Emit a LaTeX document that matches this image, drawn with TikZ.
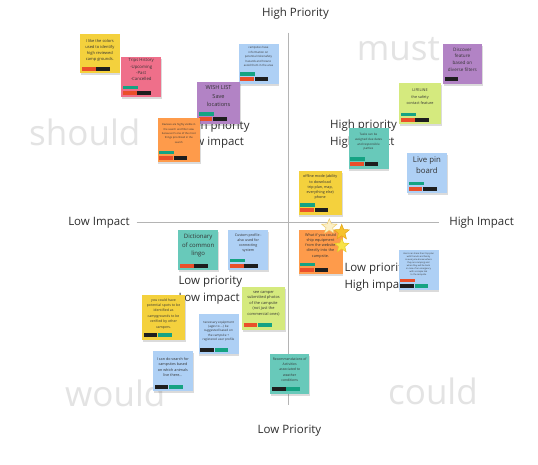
\documentclass[tikz,border=0pt]{standalone}
\usepackage{fontspec}
\setmainfont{Open Sans}
\usetikzlibrary{shapes.geometric,shadows}

% sticky-note palette
\definecolor{nyellow}{HTML}{F4D13D}
\definecolor{npink}{HTML}{EF6F8A}
\definecolor{nblue}{HTML}{AED0F5}
\definecolor{npurple}{HTML}{B283C5}
\definecolor{norange}{HTML}{FE9B4B}
\definecolor{nlime}{HTML}{D5EA7E}
\definecolor{nteal}{HTML}{68C9BA}
% vote bars
\definecolor{vgreen}{HTML}{15A383}
\definecolor{vred}{HTML}{EA4F2A}
\definecolor{vblack}{HTML}{1E1E1E}
% vote stars
\definecolor{starpale}{HTML}{FBEFC6}
\definecolor{starpaleline}{HTML}{EFCB68}
\definecolor{stargold}{HTML}{F7C22C}
\definecolor{stargoldline}{HTML}{E3A514}
\definecolor{staryellow}{HTML}{F8E347}
\definecolor{staryellowline}{HTML}{E6C52A}
% greys
\definecolor{inkgrey}{HTML}{333333}
\definecolor{axisink}{HTML}{2E2E2E}
\definecolor{linegrey}{HTML}{B4B4B4}
\definecolor{wordgrey}{HTML}{E3E3E3}

\tikzset{
  note/.style={draw=none, inner sep=0pt, anchor=north west,
    drop shadow={shadow xshift=0.6pt, shadow yshift=-2.2pt, opacity=0.2, fill=black!70}},
  notetxt/.style={inner sep=0pt, align=center, text=inkgrey},
  axislbl/.style={font=\fontsize{11.5}{14}\selectfont, text=axisink, inner sep=0pt},
  quadlbl/.style={font=\fontsize{11.5}{16.5}\selectfont, text=axisink, align=left,
    anchor=north west, inner sep=0pt},
  bigword/.style={font=\fontsize{35}{40}\selectfont, text=wordgrey, inner sep=0pt, anchor=base west},
  axisline/.style={draw=linegrey, line width=0.8pt},
  votestar/.style={star, star points=5, star point ratio=2.3, inner sep=0pt, line width=0.5pt},
}

% a sticky note: name, x, y (top left), width, height, colour
\newcommand\sticky[6]{%
  \node[note, fill=#6, minimum width=#4pt, minimum height=#5pt] (#1) at (#2,#3) {};}
% its text: note, offset from top, size, line skip, text
\newcommand\stickytext[5]{%
  \node[notetxt, anchor=north, font=\fontsize{#3}{#4}\selectfont] at ([yshift=-#2pt]#1.north) {#5};}
% a vote bar: note, row (1 lower, 2 upper), slot (0 or 1), colour
\newcommand\nbar[4]{%
  \pgfmathsetmacro\bx{2+14.3*#3}%
  \pgfmathsetmacro\by{#2==1 ? -6.5 : -11.6}%
  \pgfmathsetmacro\bh{#2==1 ? 4 : 3.4}%
  \pgfmathsetmacro\bw{#2==1 ? 13.6 : 15}%
  \fill[#4] ([shift={(\bx,\by)}]#1.south west) rectangle ++(\bw,\bh);}

\begin{document}
\begin{tikzpicture}[x=1pt, y=-1pt]
\useasboundingbox (0,0) rectangle (538,464);
\fill[white] (0,0) rectangle (538,464);

% quadrant words
\node[bigword] (must) at (356.7,60) {must};
\node[bigword] (should) at (29,145) {should};
\node[bigword] (would) at (65,406.7) {would};
\node[bigword] (could) at (388,404) {could};

% axes
\coordinate (ptop) at (288.7,32.5);
\coordinate (pbot) at (288.7,405);
\coordinate (ileft) at (136.5,222.5);
\coordinate (iright) at (439,222.5);
\draw[axisline] (ptop) -- (pbot);
\draw[axisline] (ileft) -- (iright);

\node[axislbl] (hprio) at (295.5,13.5) {High Priority};
\node[axislbl] (lprio) at (289.5,430.7) {Low Priority};
\node[axislbl] (limp) at (99,222.5) {Low Impact};
\node[axislbl] (himp) at (481.6,222.5) {High Impact};

% quadrant captions
\node[quadlbl] (qtl) at (182.6,120.3) {High priority\\Low impact};
\node[quadlbl] (qtr) at (330,119.6) {High priority\\High impact};
\node[quadlbl] (qbl) at (178.3,276.3) {Low priority\\Low impact};
\node[quadlbl] (qbr) at (344.3,263.3) {Low priority\\High impact};

% ---- should: high priority, low impact ----
\sticky{colors}{80}{33.3}{39.3}{39.4}{nyellow}
\stickytext{colors}{5.7}{4}{6}{I like the colors\\used to identify\\high reviewed\\camp grounds.}
\nbar{colors}{1}{0}{vred}\nbar{colors}{1}{1}{vblack}

\sticky{trips}{121}{56.7}{40}{40}{npink}
\stickytext{trips}{1.9}{4.3}{6.1}{Trips History\\-Upcoming\\-Past\\-Cancelled}
\nbar{trips}{2}{0}{vgreen}\nbar{trips}{1}{0}{vred}\nbar{trips}{1}{1}{vblack}

\sticky{hazards}{238.3}{43.3}{40}{40}{nblue}
\stickytext{hazards}{3.3}{2.8}{4.5}{campsites have\\information on\\potential risks/safety\\hazards and how to\\avoid them in the area}
\nbar{hazards}{2}{0}{vgreen}\nbar{hazards}{1}{0}{vred}\nbar{hazards}{1}{1}{vblack}

\sticky{wish}{196.7}{81.7}{43.3}{41.6}{npurple}
\stickytext{wish}{3.8}{5.6}{8.3}{WISH LIST\\Save\\locations}
\nbar{wish}{2}{0}{vgreen}\nbar{wish}{1}{0}{vred}\nbar{wish}{1}{1}{vblack}

\sticky{reviews}{157.3}{117.7}{42.7}{44}{norange}
\stickytext{reviews}{6}{2.6}{4.3}{Reviews are highly visible in\\the search and filter view\\because it's one of the most\\things prioritized in the\\search}
\nbar{reviews}{2}{0}{vgreen}\nbar{reviews}{1}{0}{vred}\nbar{reviews}{1}{1}{vblack}

% ---- must: high priority, high impact ----
\sticky{discover}{442.7}{44}{39}{39.3}{npurple}
\stickytext{discover}{3.7}{4.6}{6.7}{Discover\\feature\\based on\\diverse filters}
\nbar{discover}{1}{0}{vblack}

\sticky{lifeline}{399}{82.3}{41.7}{41.7}{nlime}
\stickytext{lifeline}{6.5}{3.8}{6.6}{LIFELINE\\the safety\\contact feature}
\nbar{lifeline}{2}{0}{vgreen}\nbar{lifeline}{1}{0}{vred}\nbar{lifeline}{1}{1}{vblack}

\sticky{tasks}{348.3}{127.3}{40}{41}{nteal}
\stickytext{tasks}{6.2}{3}{4.6}{Tasks can be\\assigned due dates\\and responsible\\parties}
\nbar{tasks}{2}{0}{vgreen}\nbar{tasks}{1}{0}{vred}\nbar{tasks}{1}{1}{vblack}

\sticky{livepin}{406.7}{152.3}{40}{40.4}{nblue}
\stickytext{livepin}{4.5}{7.8}{11}{Live pin\\board}
\nbar{livepin}{2}{0}{vgreen}\nbar{livepin}{1}{0}{vred}\nbar{livepin}{1}{1}{vblack}

\sticky{offline}{298.3}{170.7}{43.4}{43.6}{nyellow}
\stickytext{offline}{4.2}{3.7}{5.1}{offline mode (ability\\to download\\trip plan, map,\\everything else)\\phone}
\nbar{offline}{2}{0}{vgreen}\nbar{offline}{1}{0}{vred}\nbar{offline}{1}{1}{vblack}

% ---- could: low priority, high impact ----
\sticky{ship}{298.3}{230}{44}{44}{norange}
\stickytext{ship}{3.1}{3.8}{5.2}{What if you could\\ship equipment\\from the website\\directly into the\\campsite.}
\nbar{ship}{2}{0}{vgreen}\nbar{ship}{1}{0}{vred}\nbar{ship}{1}{1}{vblack}
\node[votestar, minimum size=16pt, fill=starpale, draw=starpaleline] (star1) at (329.3,226.7) {};
\node[votestar, minimum size=16pt, fill=stargold, draw=stargoldline] (star2) at (341.7,232.3) {};
\node[votestar, minimum size=15pt, fill=staryellow, draw=staryellowline] (star3) at (341.7,245.7) {};

\sticky{share}{398.3}{249.3}{40}{40.7}{nblue}
\stickytext{share}{3.6}{2.2}{2.9}{Users can share their trip plan\\with friends and family\\so everyone knows where\\they are camping and\\when they will be back\\in case of an emergency\\with a simple link\\to the campsite}
\nbar{share}{2}{0}{vred}\nbar{share}{1}{0}{vblack}\nbar{share}{1}{1}{vgreen}

\sticky{weather}{270}{353.3}{39}{40}{nteal}
\stickytext{weather}{4.3}{3.4}{5.2}{Recommendations of\\Activities\\associated to\\weather\\conditions}
\nbar{weather}{1}{0}{vblack}\nbar{weather}{1}{1}{vgreen}

% ---- would: low priority, low impact ----
\sticky{lingo}{178}{230}{40}{40}{nteal}
\stickytext{lingo}{4.3}{6}{8.3}{Dictionary\\of common\\lingo}
\nbar{lingo}{1}{0}{vred}\nbar{lingo}{1}{1}{vblack}

\sticky{profile}{228}{230}{40}{40}{nblue}
\stickytext{profile}{3.2}{3.6}{5}{Custom profile -\\also used for\\connecting\\system}
\nbar{profile}{2}{0}{vgreen}\nbar{profile}{1}{0}{vred}\nbar{profile}{1}{1}{vblack}

\sticky{photos}{241.7}{286.7}{43.3}{42.6}{nlime}
\stickytext{photos}{4}{3.9}{5.5}{see camper\\submitted photos\\of the campsite\\(not just the\\commercial ones)}
\nbar{photos}{1}{0}{vred}\nbar{photos}{1}{1}{vgreen}

\sticky{spots}{141.7}{295}{43.3}{44.3}{nyellow}
\stickytext{spots}{3.2}{3.5}{5.4}{you could have\\potential spots to be\\identified as\\campgrounds to be\\verified by other\\campers.}
\nbar{spots}{1}{0}{vblack}\nbar{spots}{1}{1}{vgreen}

\sticky{gear}{198.3}{313.3}{40}{40.7}{nblue}
\stickytext{gear}{7.5}{3.1}{4.3}{necessary equipment\\(ages to ...) be\\suggested based on\\the campsite +\\registered user profile}
\nbar{gear}{1}{0}{vblack}\nbar{gear}{1}{1}{vgreen}

\sticky{animals}{152.7}{351}{40}{40}{nblue}
\stickytext{animals}{6.4}{3.7}{5.3}{I can do search for\\campsites based\\on which animals\\live there...}
\nbar{animals}{1}{0}{vblack}\nbar{animals}{1}{1}{vgreen}
\end{tikzpicture}
\end{document}
